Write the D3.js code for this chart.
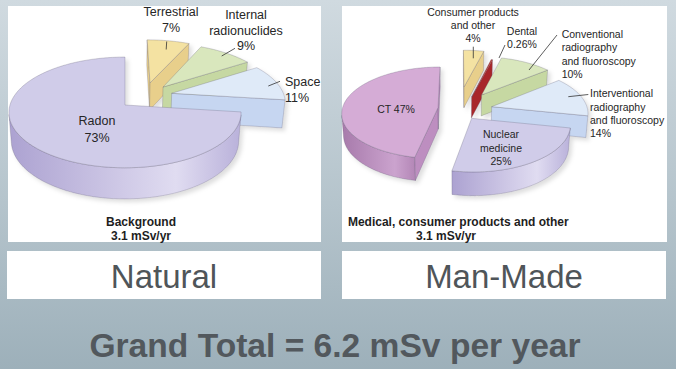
<!DOCTYPE html>
<html><head><meta charset="utf-8">
<script src="https://cdn.jsdelivr.net/npm/d3@7"></script>
<style>html,body{margin:0;padding:0;overflow:hidden;background:#fff}svg{display:block}</style>
</head><body>
<svg id="chart" width="676" height="369"></svg>
<script>
// ---------------- DATA ----------------
const naturalCategories = ["Terrestrial", "Internal\nradionuclides", "Space", "Radon"];
const naturalValues = [7, 9, 11, 73];
const manMadeCategories = ["Consumer products\nand other", "Dental", "Conventional\nradiography\nand fluoroscopy", "Interventional\nradiography\nand fluoroscopy", "Nuclear\nmedicine", "CT"];
const manMadeValues = [4, 0.26, 10, 14, 25, 47];
const panelTitles = ["Natural", "Man-Made"];
const panelCaptions = ["Background", "Medical, consumer products and other"];
const panelTotals = ["3.1 mSv/yr", "3.1 mSv/yr"];
const grandTotal = "Grand Total = 6.2 mSv per year";

// ---------------- STYLE / LAYOUT ----------------
const FONT = "'Liberation Sans', Arial, Helvetica, sans-serif";
const YELLOW = {top:"#f4e2a2", cut:"#e8cf8b", side:["#d9bd78","#f0dc9c","#e0c682"]};
const GREEN  = {top:"#d9e7bd", cut:"#c6d8a2", side:["#b8cb92","#d5e4b8","#c0d29c"]};
const BLUE   = {top:"#dfeaf8", cut:"#c6d6f1", side:["#b0c4e6","#d6e3f6","#bccdea"]};
const LAV    = {top:"#d0cce9", cut:"#bdb6de", side:["#aca2d1","#e0dcf1","#b9b1da"]};
const RED    = {top:"#c0392f", cut:"#a8282a", side:["#8f1f22","#b83030","#9a2426"]};
const PURPLE = {top:"#d5acd6", cut:"#bd8ec0", side:["#a77aab","#cba3ce","#b386b6"]};

const camera = {F:755.6, D:6.57, tilt:28.2*Math.PI/180};

const naturalPie = {
  cx:125, cy:105, r:1, H:0.285, startAngle:0,
  colors:[YELLOW, GREEN, BLUE, LAV],
  offsets:[[0.23,0.428],[0.346,0.346],[0.418,0.2215],[0,0]],
  fontSize:12.5,
  labels:[
    {x:171, y:16, anchor:"middle", lh:15.7, leader:[[166.7,41.5],[166.2,49.5]]},
    {x:246, y:19, anchor:"middle", lh:15.5, leader:[[221.7,56],[235,48.3]]},
    {x:285, y:86, anchor:"start", lh:16, leader:[[268.3,86],[280,81.3]]},
    {x:97, y:125, anchor:"middle", lh:16.5}
  ],
  caption:{x:141, y:225.7, lh:14.3, x2:141}
};
const manMadePie = {
  cx:457.6, cy:107.6, r:0.83, H:0.215, startAngle:0,
  colors:[YELLOW, RED, GREEN, BLUE, LAV, PURPLE],
  offsets:[[0.059,0.40],[0.125,0.2],[0.215,0.24],[0.297,0.017],[0.119,-0.192],[-0.17,0]],
  fontSize:10.5,
  labels:[
    {x:473, y:15.7, anchor:"middle", lh:13.3, leader:[[473.3,46.7],[473.3,58.3]]},
    {x:522, y:35, anchor:"middle", lh:12.5, leader:[[505,45],[499,58]]},
    {x:561.7, y:38, anchor:"start", lh:13.3, leader:[[529,70],[557,35]]},
    {x:590, y:97.3, anchor:"start", lh:13.2, leader:[[568.3,96.7],[588.3,94.5]]},
    {x:501, y:138.3, anchor:"middle", lh:13.5},
    {x:396, y:113.3, anchor:"middle", inline:true}
  ],
  caption:{x:458.3, y:225.7, lh:14.3, x2:446}
};

// ---------------- DRAW ----------------
const svg = d3.select("#chart");
const defs = svg.append("defs");
const bg = defs.append("linearGradient").attr("id","bg").attr("x1",0).attr("y1",0).attr("x2",0).attr("y2",1);
bg.selectAll("stop").data([[0,"#d0dae0"],[0.55,"#b5c4cc"],[1,"#9db0ba"]]).join("stop")
  .attr("offset",d=>d[0]).attr("stop-color",d=>d[1]);
const sh = defs.append("filter").attr("id","shadow").attr("x","-10%").attr("y","-10%").attr("width","130%").attr("height","140%");
sh.append("feDropShadow").attr("dx",3).attr("dy",3).attr("stdDeviation",2).attr("flood-color","#000").attr("flood-opacity",0.13);

svg.append("rect").attr("width",676).attr("height",369).attr("fill","url(#bg)");

const panels = [{x:8,y:6,w:313,h:236},{x:342,y:6,w:325,h:236}];
const titleBoxes = [{x:7,y:251,w:314,h:48},{x:342,y:251,w:324,h:48}];
svg.selectAll("rect.panel").data(panels).join("rect").attr("class","panel")
  .attr("x",d=>d.x).attr("y",d=>d.y).attr("width",d=>d.w).attr("height",d=>d.h).attr("fill","#fff");
svg.selectAll("rect.tbox").data(titleBoxes).join("rect").attr("class","tbox")
  .attr("x",d=>d.x).attr("y",d=>d.y).attr("width",d=>d.w).attr("height",d=>d.h).attr("fill","#fff");

let gradId = 0;
function drawPie3D(values, cfg) {
  const g = svg.append("g").attr("filter","url(#shadow)");
  const arcs = d3.pie().sort(null).startAngle(cfg.startAngle).endAngle(cfg.startAngle + 2*Math.PI)(values);
  const s = Math.sin(camera.tilt), c = Math.cos(camera.tilt), D = camera.D, F = camera.F;
  const P = (X, Y, Z) => {
    const yc = Y*c + Z*s, zc = D + Z*c - Y*s;
    return [cfg.cx + F*X/zc, cfg.cy - F*yc/zc];
  };
  const r = cfg.r, H = cfg.H, step = Math.PI/180;
  const slices = arcs.map((a, i) => {
    const [ox, oz] = cfg.offsets[i];
    const th = a.endAngle - a.startAngle, mid = (a.startAngle + a.endAngle)/2;
    const dist = th > 0 ? 4*r*Math.sin(th/2)/(3*th) : r*2/3;
    return {a, i, ox, oz, depth: oz + dist*Math.cos(mid)};
  }).sort((p, q) => q.depth - p.depth);

  slices.forEach(sl => {
    const {a, i, ox, oz} = sl;
    const col = cfg.colors[i];
    const a0 = a.startAngle, a1 = a.endAngle;
    const rim = (t, Y) => P(ox + r*Math.sin(t), Y, oz + r*Math.cos(t));
    const n = Math.max(1, Math.ceil((a1 - a0)/step));
    const ts = d3.range(n + 1).map(k => a0 + (a1 - a0)*k/n);
    const sg = g.append("g");
    const strokeAttrs = sel => sel.attr("stroke","#5e5a72").attr("stroke-opacity",0.45).attr("stroke-width",0.6).attr("stroke-linejoin","round");

    // outer wall: visible runs
    const runs = []; let cur = null;
    for (let k = 0; k < n; k++) {
      const m = (ts[k] + ts[k+1])/2;
      const dot = Math.sin(m)*(-ox - r*Math.sin(m)) + Math.cos(m)*(-D*c - oz - r*Math.cos(m));
      if (dot > 0) { if (!cur) { cur = [ts[k]]; runs.push(cur); } cur.push(ts[k+1]); }
      else cur = null;
    }
    runs.forEach(run => {
      const topPts = run.map(t => rim(t, 0));
      const botPts = run.map(t => rim(t, -H)).reverse();
      const pts = topPts.concat(botPts);
      const xs = pts.map(p => p[0]);
      const id = "wg" + (gradId++);
      const lg = defs.append("linearGradient").attr("id", id).attr("gradientUnits","userSpaceOnUse")
        .attr("x1", d3.min(xs)).attr("x2", d3.max(xs)).attr("y1",0).attr("y2",0);
      lg.selectAll("stop").data([[0,col.side[0]],[0.72,col.side[1]],[1,col.side[2]]]).join("stop")
        .attr("offset", d=>d[0]).attr("stop-color", d=>d[1]);
      sg.append("path").attr("d", "M" + pts.map(p => p.join(",")).join("L") + "Z")
        .attr("fill", `url(#${id})`).call(strokeAttrs);
    });

    // cut faces
    const cutFace = t => {
      const pts = [P(ox,0,oz), rim(t,0), rim(t,-H), P(ox,-H,oz)];
      sg.append("path").attr("d", "M" + pts.map(p => p.join(",")).join("L") + "Z")
        .attr("fill", col.cut).call(strokeAttrs);
    };
    const dStart = ox*Math.cos(a0) - Math.sin(a0)*(D*c + oz);
    const dEnd = -ox*Math.cos(a1) + Math.sin(a1)*(D*c + oz);
    if (dStart > 1e-6) cutFace(a0);
    if (dEnd > 1e-6) cutFace(a1);

    // top face
    const topPts = [P(ox,0,oz)].concat(ts.map(t => rim(t,0)));
    sg.append("path").attr("d", "M" + topPts.map(p => p.join(",")).join("L") + "Z")
      .attr("fill", col.top).call(strokeAttrs);
  });
}

function drawLabels(categories, values, cfg) {
  const g = svg.append("g").attr("font-family", FONT).attr("font-size", cfg.fontSize).attr("fill","#262626");
  cfg.labels.forEach((L, i) => {
    const pct = values[i] + "%";
    let lines = categories[i].split("\n");
    if (L.inline) lines[lines.length-1] += " " + pct; else lines.push(pct);
    const t = g.append("text").attr("text-anchor", L.anchor);
    lines.forEach((ln, k) => t.append("tspan").attr("x", L.x).attr("y", L.y + k*(L.lh||13)).text(ln));
    if (L.leader) {
      g.append("line").attr("x1",L.leader[0][0]).attr("y1",L.leader[0][1])
        .attr("x2",L.leader[1][0]).attr("y2",L.leader[1][1])
        .attr("stroke","#333").attr("stroke-width",0.8);
    }
  });
}

function drawCaption(idx, cfg) {
  const g = svg.append("g").attr("font-family", FONT).attr("font-size", 12).attr("font-weight","bold")
    .attr("fill","#1e1e1e").attr("text-anchor","middle");
  g.append("text").attr("x", cfg.caption.x).attr("y", cfg.caption.y).text(panelCaptions[idx]);
  g.append("text").attr("x", cfg.caption.x2).attr("y", cfg.caption.y + cfg.caption.lh).text(panelTotals[idx]);
}

drawPie3D(naturalValues, naturalPie);
drawPie3D(manMadeValues, manMadePie);
drawLabels(naturalCategories, naturalValues, naturalPie);
drawLabels(manMadeCategories, manMadeValues, manMadePie);
drawCaption(0, naturalPie);
drawCaption(1, manMadePie);

svg.selectAll("text.ptitle").data(panelTitles).join("text").attr("class","ptitle")
  .attr("x", (d,i) => titleBoxes[i].x + titleBoxes[i].w/2).attr("y", 287.7)
  .attr("text-anchor","middle").attr("font-family", FONT).attr("font-size", 33)
  .attr("fill","#4f5559").text(d => d);

svg.append("text").attr("x", 335).attr("y", 356.7).attr("text-anchor","middle")
  .attr("font-family", FONT).attr("font-size", 33.6).attr("font-weight","bold")
  .attr("fill","#52585d").text(grandTotal);
</script>
</body></html>
